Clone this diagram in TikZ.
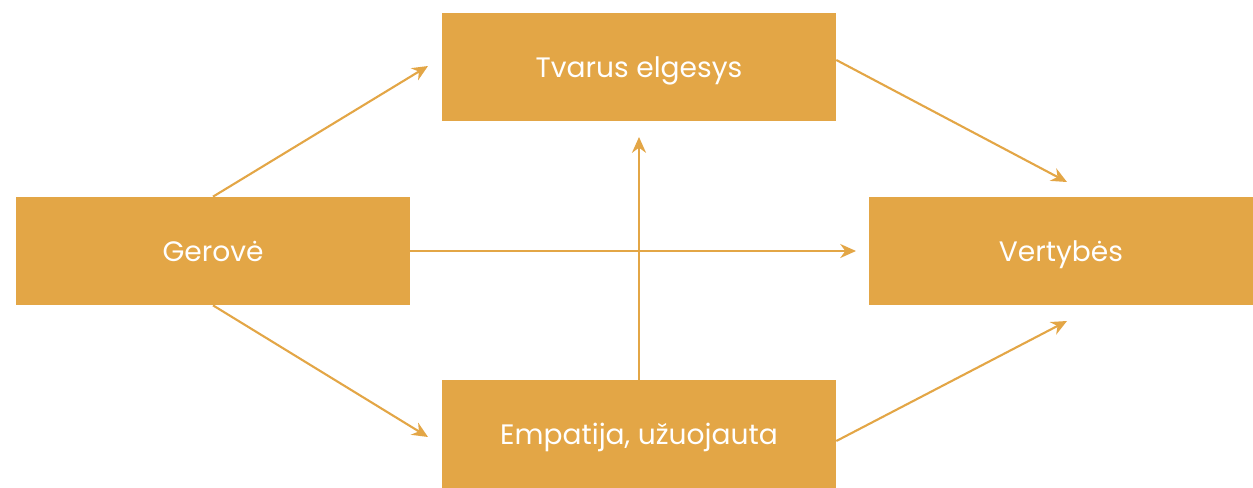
\documentclass[tikz,border=0pt]{standalone}
\usepackage{fontspec}
\setmainfont{Poppins}
\usetikzlibrary{arrows.meta,positioning}
\definecolor{ochre}{HTML}{E3A646}

\begin{document}
\begin{tikzpicture}[x=0.02cm,y=-0.02cm,
  box/.style={fill=ochre,text=white,minimum width=7.88cm,minimum height=2.16cm,inner sep=0pt,
    text height=2.1ex,text depth=-0.2ex,font=\fontsize{16}{18}\selectfont},
  link/.style={ochre,line width=1.2pt,-{Stealth[length=9pt,width=8pt]}}]
\useasboundingbox (0,0) rectangle (1253,487);
\node[box] (tvarus) at (639,67){Tvarus elgesys};
\node[box] (gerove) at (213,251){Gerovė};
\node[box,minimum width=7.68cm] (vertybes) at (1061,251){Vertybės};
\node[box] (empatija) at (639,434){Empatija, užuojauta};
\coordinate (a1) at (428,66);\coordinate (a2) at (428,437);
\coordinate (a3) at (856,251);\coordinate (a4) at (639,137);
\coordinate (a5) at (1067,182);\coordinate (a6) at (1067,321);
\draw[link] (gerove.north)--(a1);
\draw[link] (gerove.south)--(a2);
\draw[link] (gerove.east)--(a3);
\draw[link] (empatija.north)--(a4);
\draw[link] (tvarus.east|-836,60)--(a5);
\draw[link] (empatija.east|-836,441)--(a6);
\end{tikzpicture}
\end{document}
